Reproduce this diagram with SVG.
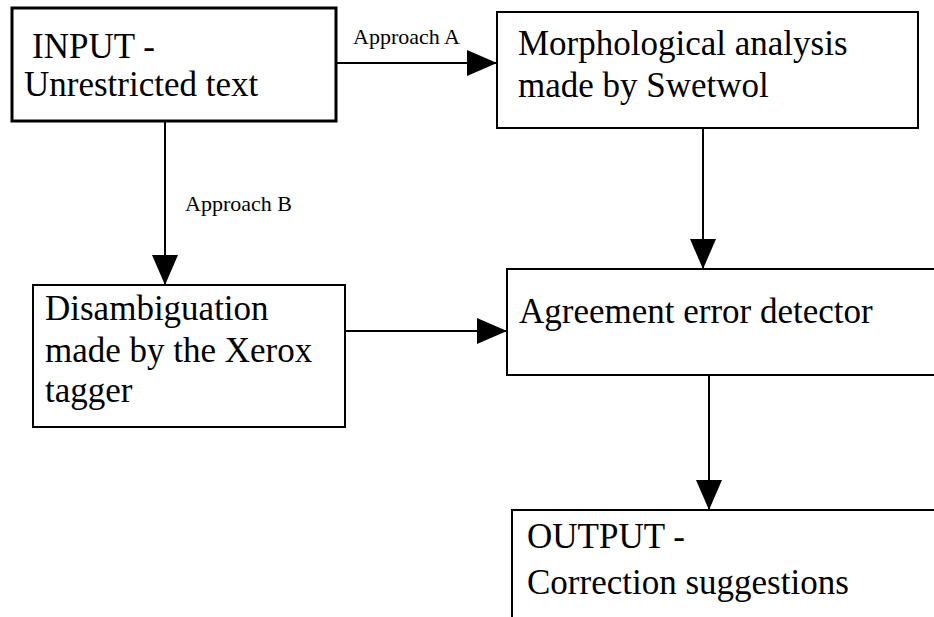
<svg xmlns="http://www.w3.org/2000/svg" width="934" height="617" viewBox="0 0 934 617">
<style>
.box{fill:#fff;stroke:#000;stroke-width:2}
.t{font-family:"Liberation Serif","Times New Roman",serif;font-size:35px;fill:#000}
.s{font-family:"Liberation Serif","Times New Roman",serif;font-size:22px;fill:#000}
.c{stroke:#000;stroke-width:2;fill:none;marker-end:url(#ah)}
</style>
<defs>
<marker id="ah" viewBox="0 0 30 26" refX="30" refY="13" markerWidth="30" markerHeight="26" markerUnits="userSpaceOnUse" orient="auto">
<path d="M0,0 L30,13 L0,26 z" fill="#000"/>
</marker>
</defs>
<rect width="934" height="617" fill="#fff"/>
<g id="input">
<rect class="box" x="12" y="8" width="324" height="113" style="stroke-width:3"/>
<text class="t" x="32" y="58">INPUT -</text>
<text class="t" x="24" y="96">Unrestricted text</text>
</g>
<g id="morph">
<rect class="box" x="497" y="12" width="421" height="116"/>
<text class="t" x="518" y="55">Morphological analysis</text>
<text class="t" x="518" y="97">made by Swetwol</text>
</g>
<g id="disamb">
<rect class="box" x="33" y="285" width="312" height="142"/>
<text class="t" x="45" y="320">Disambiguation</text>
<text class="t" x="45" y="362">made by the Xerox</text>
<text class="t" x="45" y="402">tagger</text>
</g>
<g id="agreement">
<rect class="box" x="507" y="269" width="440" height="106"/>
<text class="t" x="519" y="323">Agreement error detector</text>
</g>
<g id="output">
<rect class="box" x="512" y="510" width="440" height="200"/>
<text class="t" x="527" y="548">OUTPUT -</text>
<text class="t" x="527" y="594">Correction suggestions</text>
</g>
<g id="connectors">
<line class="c" x1="336" y1="63" x2="497" y2="63"/>
<line class="c" x1="165" y1="121" x2="165" y2="285"/>
<line class="c" x1="703" y1="128" x2="703" y2="269"/>
<line class="c" x1="345" y1="331" x2="507" y2="331"/>
<line class="c" x1="709" y1="375" x2="709" y2="510"/>
<text class="s" x="353" y="44">Approach A</text>
<text class="s" x="185" y="211">Approach B</text>
</g>
</svg>
